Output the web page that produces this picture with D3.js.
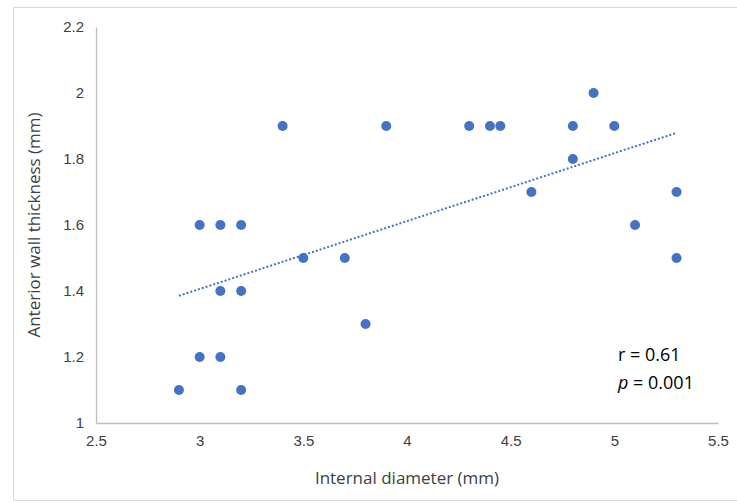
<!DOCTYPE html>
<html lang="en">
<head>
<meta charset="UTF-8">
<title>Wall thickness vs diameter</title>
<style>
  body { margin: 0; background: #fff; font-family: "Open Sans", "Noto Sans", sans-serif; }
  .tick text { fill: #404040; font-size: 15px; }
  .axis-title { fill: #404040; font-size: 17px; }
  .stat { fill: #000; font-size: 18px; }
</style>
</head>
<body>
<svg width="737" height="503"></svg>
<script src="https://cdnjs.cloudflare.com/ajax/libs/d3/7.8.5/d3.min.js"></script>
<script>
// internal diameter (mm) and anterior wall thickness (mm)
var diameter = [2.9, 3.0, 3.0, 3.1, 3.1, 3.1, 3.2, 3.2, 3.2, 3.4, 3.5, 3.7, 3.8, 3.9,
                4.3, 4.4, 4.45, 4.6, 4.8, 4.8, 4.9, 5.0, 5.1, 5.3, 5.3];
var thickness = [1.1, 1.6, 1.2, 1.6, 1.4, 1.2, 1.6, 1.4, 1.1, 1.9, 1.5, 1.5, 1.3, 1.9,
                 1.9, 1.9, 1.9, 1.7, 1.9, 1.8, 2.0, 1.9, 1.6, 1.7, 1.5];
var xTicks = [2.5, 3, 3.5, 4, 4.5, 5, 5.5];
var yTicks = [1, 1.2, 1.4, 1.6, 1.8, 2, 2.2];

var svg = d3.select("svg");
var pl = 96, pr = 718, pt = 27, pb = 423;

svg.append("rect")
    .attr("x", 13.5).attr("y", 7.5)
    .attr("width", 740).attr("height", 493)
    .attr("fill", "none").attr("stroke", "#d9d9d9");

var x = d3.scaleLinear().domain([2.5, 5.5]).range([pl, pr]);
var y = d3.scaleLinear().domain([1, 2.2]).range([pb, pt]);

var xAxis = svg.append("g")
    .attr("transform", "translate(0," + pb + ")")
    .call(d3.axisBottom(x).tickValues(xTicks).tickSize(0).tickPadding(12)
      .tickFormat(function(d) { return String(d); }));
var yAxis = svg.append("g")
    .attr("transform", "translate(" + pl + ",0)")
    .call(d3.axisLeft(y).tickValues(yTicks).tickSize(0).tickPadding(12)
      .tickFormat(function(d) { return String(d); }));
svg.selectAll(".domain").attr("stroke", "#bfbfbf").attr("stroke-width", 1.3);

// linear trendline by least squares
var n = diameter.length;
var mx = d3.mean(diameter), my = d3.mean(thickness);
var sxy = 0, sxx = 0;
for (var i = 0; i < n; i++) {
  sxy += (diameter[i] - mx) * (thickness[i] - my);
  sxx += (diameter[i] - mx) * (diameter[i] - mx);
}
var slope = sxy / sxx, icpt = my - slope * mx;
var x0 = d3.min(diameter), x1 = d3.max(diameter);
svg.append("line")
    .attr("x1", x(x0)).attr("y1", y(icpt + slope * x0))
    .attr("x2", x(x1)).attr("y2", y(icpt + slope * x1))
    .attr("stroke", "#4472c4").attr("stroke-width", 2)
    .attr("stroke-dasharray", "2 2");

svg.append("g").selectAll("circle")
    .data(diameter)
    .enter().append("circle")
    .attr("cx", function(d) { return x(d); })
    .attr("cy", function(d, i) { return y(thickness[i]); })
    .attr("r", 5)
    .attr("fill", "#4472c4");

svg.append("text")
    .attr("class", "axis-title")
    .attr("x", (pl + pr) / 2).attr("y", 484)
    .attr("text-anchor", "middle")
    .text("Internal diameter (mm)");
svg.append("text")
    .attr("class", "axis-title")
    .attr("transform", "translate(40," + ((pt + pb) / 2) + ") rotate(-90)")
    .attr("text-anchor", "middle")
    .text("Anterior wall thickness (mm)");

svg.append("text").attr("class", "stat")
    .attr("x", 618).attr("y", 361)
    .text("r = 0.61");
var ptxt = svg.append("text").attr("class", "stat")
    .attr("x", 618).attr("y", 389);
ptxt.append("tspan").attr("font-style", "italic").text("p");
ptxt.append("tspan").text(" = 0.001");
</script>
</body>
</html>
